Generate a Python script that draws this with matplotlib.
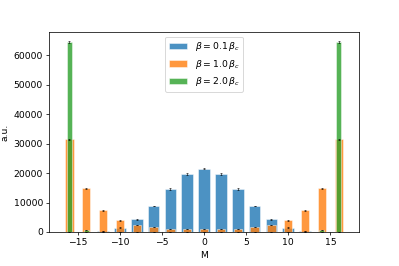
import numpy as np
import matplotlib
matplotlib.use("Agg")
import matplotlib.pyplot as plt

M = np.arange(-16, 17, 2)

# counts (symmetric in M)
counts_01 = [0, 60, 340, 1470, 4290, 8810, 14580, 19660, 21450,
             19660, 14580, 8810, 4290, 1470, 340, 60, 0]
counts_10 = [31420, 14800, 7340, 3950, 2370, 1580, 1130, 900, 900,
             900, 1130, 1580, 2370, 3950, 7340, 14800, 31420]
counts_20 = [64400, 680, 0, 0, 0, 0, 0, 0, 0,
             0, 0, 0, 0, 0, 0, 680, 64400]

err_01 = [0, 20, 40, 80, 120, 150, 180, 200, 200,
          200, 180, 150, 120, 80, 40, 20, 0]
err_10 = [220, 150, 110, 80, 60, 50, 40, 40, 40,
          40, 40, 50, 60, 80, 110, 150, 220]
err_20 = [300, 40, 0, 0, 0, 0, 0, 0, 0,
          0, 0, 0, 0, 0, 0, 40, 300]

labels = [r"$\beta = 0.1\,\beta_c$", r"$\beta = 1.0\,\beta_c$", r"$\beta = 2.0\,\beta_c$"]

fig, ax = plt.subplots(figsize=(6, 4), dpi=66.5)
fig.subplots_adjust(left=0.124, right=0.899, bottom=0.128, top=0.88)

ekw = dict(elinewidth=0.6, capthick=0.6)
ax.bar(M, counts_01, width=1.4, yerr=err_01, capsize=1, alpha=0.8,
       color="tab:blue", edgecolor="white", linewidth=0.6, ecolor="black",
       error_kw=ekw, label=labels[0])
ax.bar(M, counts_10, width=1.0, yerr=err_10, capsize=1, alpha=0.8,
       color="tab:orange", edgecolor="white", linewidth=0.6, ecolor="black",
       error_kw=ekw, label=labels[1])
ax.bar(M, counts_20, width=0.6, yerr=err_20, capsize=1, alpha=0.8,
       color="tab:green", edgecolor="white", linewidth=0.6, ecolor="black",
       error_kw=ekw, label=labels[2])

ax.set_xlabel("M")
ax.set_ylabel("a.u.")
ax.legend(loc="upper center")

fig.savefig("out.png", dpi=66.5)
